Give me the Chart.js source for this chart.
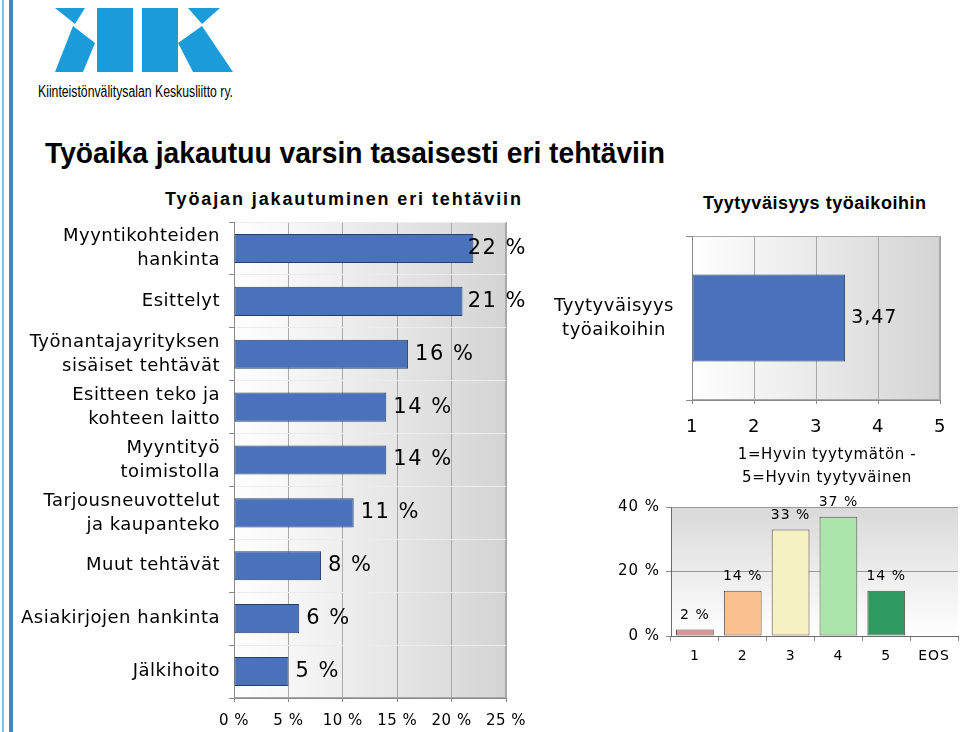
<!DOCTYPE html>
<html><head><meta charset="utf-8">
<script src="https://cdn.jsdelivr.net/npm/chart.js@4"></script>
<style>
html,body{margin:0;padding:0;background:#fff;}
body{width:960px;height:732px;overflow:hidden;position:relative;}
.abs{position:absolute;}
.txt{position:absolute;white-space:nowrap;line-height:1;color:#000;transform-origin:0 0;}
canvas{position:absolute;}
</style></head><body>

<div class="abs" style="left:2px;top:0;width:1.5px;height:732px;background:#8cbbe3;"></div>
<div class="abs" style="left:9px;top:0;width:4px;height:732px;background:#3f88c9;"></div>

<svg class="abs" style="left:0;top:0" width="240" height="80" viewBox="0 0 240 80">
  <g fill="#1b9bd7">
    <polygon points="55,8 85,8 75,24"/>
    <polygon points="73,26 95,43 83,72 55,72"/>
    <rect x="97" y="8" width="36" height="64"/>
    <rect x="142" y="8" width="36" height="64"/>
    <polygon points="188,8 220,8 202,24"/>
    <polygon points="202,26 178,43 193,72 233,72"/>
  </g>
</svg>
<div id="logoText" class="txt" data-fit="scale" data-w="195" style="left:38px;top:83px;font:16px 'Liberation Sans Narrow','Liberation Sans',sans-serif;">Kiinteistönvälitysalan Keskusliitto ry.</div>

<div id="mainTitle" class="txt" data-fit="scale" data-w="620" style="left:45px;top:137px;font:bold 29px 'Liberation Sans',Arial,sans-serif;">Työaika jakautuu varsin tasaisesti eri tehtäviin</div>
<div id="titleA" class="txt" data-fit="space" data-w="356" style="left:165px;top:189px;font:bold 18px 'Liberation Sans',Arial,sans-serif;">Työajan jakautuminen eri tehtäviin</div>
<div id="titleB" class="txt" data-fit="space" data-w="223" style="left:703px;top:193px;font:bold 18px 'Liberation Sans',Arial,sans-serif;">Tyytyväisyys työaikoihin</div>

<canvas id="cA" width="540" height="517" style="left:0;top:215px;width:540px;height:517px;"></canvas>
<canvas id="cB" width="420" height="260" style="left:540px;top:225px;width:420px;height:260px;"></canvas>
<canvas id="cC" width="360" height="184" style="left:600px;top:496px;width:360px;height:184px;"></canvas>

<script>
// ---- data ----
const taskLabels = [["Myyntikohteiden","hankinta"],"Esittelyt",["Työnantajayrityksen","sisäiset tehtävät"],["Esitteen teko ja","kohteen laitto"],["Myyntityö","toimistolla"],["Tarjousneuvottelut","ja kaupanteko"],"Muut tehtävät","Asiakirjojen hankinta","Jälkihoito"];
const taskShares = [22, 21, 16, 14, 14, 11, 8, 6, 5];
const shareTickStep = 5;
const shareMax = 25;

const satisfactionLabels = [["Tyytyväisyys","työaikoihin"]];
const satisfactionMean = [3.47];
const scaleMin = 1, scaleMax = 5;
const scaleTitle = ["1=Hyvin tyytymätön -","5=Hyvin tyytyväinen"];

const ratingLabels = ["1","2","3","4","5","EOS"];
const ratingShares = [2, 14, 33, 37, 14, 0];
const ratingColors = ["#d99694","#fac090","#f6f1c3","#abe5ab","#2f9a60","#cccccc"];

// ---- text fitting ----
document.querySelectorAll('[data-fit]').forEach(el=>{
  const target = +el.dataset.w;
  const w = el.getBoundingClientRect().width;
  if (el.dataset.fit === 'scale') {
    el.style.transform = 'scaleX(' + (target / w) + ')';
  } else {
    const n = el.textContent.length - 1;
    el.style.letterSpacing = ((target - w) / n) + 'px';
  }
});

// ---- plugins ----
const spacingPlugin = {
  id: 'spacing',
  beforeUpdate(chart, args, opts) { chart.ctx.letterSpacing = (opts.px || 0) + 'px'; },
  beforeDraw(chart, args, opts) { chart.ctx.letterSpacing = (opts.px || 0) + 'px'; }
};
const bgPlugin = {
  id: 'bg',
  beforeDraw(chart, args, opts) {
    if (!opts.colors) return;
    const {ctx, chartArea: a} = chart;
    const g = opts.vertical ? ctx.createLinearGradient(0, a.top, 0, a.bottom)
                            : ctx.createLinearGradient(a.left, 0, a.right, 0);
    g.addColorStop(0, opts.colors[0]);
    g.addColorStop(1, opts.colors[1]);
    ctx.save();
    ctx.fillStyle = g;
    ctx.fillRect(a.left, a.top, a.right - a.left, a.bottom - a.top);
    if (opts.border) {
      ctx.strokeStyle = opts.border; ctx.lineWidth = 1;
      ctx.strokeRect(a.left + 0.5, a.top + 0.5, a.right - a.left - 1, a.bottom - a.top - 1);
    }
    ctx.restore();
  }
};
const labelPlugin = {
  id: 'vlabels',
  afterDatasetsDraw(chart, args, opts) {
    if (!opts.format) return;
    const ctx = chart.ctx;
    const meta = chart.getDatasetMeta(0);
    const data = chart.data.datasets[0].data;
    ctx.save();
    ctx.font = opts.font;
    ctx.fillStyle = '#000';
    ctx.letterSpacing = (opts.spacing || 0) + 'px';
    ctx.textBaseline = 'middle';
    meta.data.forEach((el, i) => {
      const v = data[i];
      if (opts.skipZero && v === 0) return;
      const t = opts.format(v);
      if (opts.mode === 'right') {
        ctx.textAlign = 'left';
        const w = ctx.measureText(t).width;
        let x = el.x + opts.offset;
        if (opts.maxRight && x + w > opts.maxRight) x = opts.maxRight - w;
        ctx.fillText(t, x, el.y);
      } else {
        ctx.textAlign = 'center';
        ctx.fillText(t, el.x, el.y - opts.offset);
      }
    });
    ctx.restore();
  }
};
const axisTitlePlugin = {
  id: 'axTitle',
  afterDraw(chart, args, opts) {
    if (!opts.lines) return;
    const ctx = chart.ctx;
    ctx.save();
    ctx.font = opts.font; ctx.fillStyle = '#000';
    ctx.letterSpacing = (opts.spacing || 0) + 'px';
    ctx.textAlign = 'center'; ctx.textBaseline = 'middle';
    opts.lines.forEach((l, i) => ctx.fillText(l, opts.x, opts.y + i * opts.lh));
    ctx.restore();
  }
};
Chart.register(spacingPlugin, bgPlugin, labelPlugin, axisTitlePlugin);
Chart.defaults.color = '#000';
Chart.defaults.font.family = "'DejaVu Sans', Verdana, sans-serif";

const common = {
  responsive: false, animation: false, devicePixelRatio: 1,
  events: []
};
const fitX = h => s => { s.height = h; s.paddingLeft = 0; s.paddingRight = 0; };
const fitY = w => s => { s.width = w; s.paddingTop = 0; s.paddingBottom = 0; };

// ---- Chart A ----
new Chart(document.getElementById('cA'), {
  type: 'bar',
  data: { labels: taskLabels, datasets: [{
    data: taskShares, backgroundColor: '#4a72bb', borderColor: '#263f6b', borderWidth: 1,
    borderSkipped: false, categoryPercentage: 1, barPercentage: 0.55 }] },
  options: Object.assign({}, common, {
    indexAxis: 'y',
    layout: { padding: { top: 7, right: 34, left: 0, bottom: 0 } },
    plugins: {
      legend: { display: false }, tooltip: { enabled: false },
      spacing: { px: 0.5 },
      bg: { colors: ['#ffffff', '#d4d4d4'], border: '#a8a8a8' },
      vlabels: { format: v => v + ' %', font: "21px 'DejaVu Sans'", spacing: 1.5, mode: 'right', offset: 7, maxRight: 527 }
    },
    scales: {
      x: { min: 0, max: shareMax,
        ticks: { stepSize: shareTickStep, callback: v => v + ' %', font: { size: 15 }, padding: 10 },
        grid: { color: '#a9a9a9', tickLength: 4, tickColor: '#8a8a8a' },
        border: { color: '#8a8a8a' },
        afterFit: fitX(34) },
      y: { ticks: { font: { size: 18, lineHeight: 1.33 }, padding: 9 },
        grid: { color: '#ececec', tickLength: 5, tickColor: '#8a8a8a' },
        border: { color: '#8a8a8a' },
        afterFit: fitY(234) }
    }
  })
});

// ---- Chart B ----
new Chart(document.getElementById('cB'), {
  type: 'bar',
  data: { labels: satisfactionLabels, datasets: [{
    data: satisfactionMean, backgroundColor: '#4a72bb', borderColor: '#263f6b', borderWidth: 1,
    borderSkipped: false, categoryPercentage: 1, barPercentage: 0.53, base: scaleMin }] },
  options: Object.assign({}, common, {
    indexAxis: 'y',
    layout: { padding: { top: 11, right: 20, left: 0, bottom: 0 } },
    plugins: {
      legend: { display: false }, tooltip: { enabled: false },
      spacing: { px: 0.5 },
      bg: { colors: ['#ffffff', '#d4d4d4'], border: '#a8a8a8' },
      vlabels: { format: v => v.toFixed(2).replace('.', ','), font: "19px 'DejaVu Sans'", spacing: 1, mode: 'right', offset: 6 },
      axTitle: { lines: scaleTitle, font: "15px 'DejaVu Sans'", spacing: 0.6, x: 287, y: 230, lh: 23 }
    },
    scales: {
      x: { min: scaleMin, max: scaleMax,
        ticks: { stepSize: 1, font: { size: 18 }, padding: 13 },
        grid: { color: '#a9a9a9', tickLength: 4, tickColor: '#8a8a8a' },
        border: { color: '#8a8a8a' },
        afterFit: fitX(85) },
      y: { ticks: { font: { size: 18, lineHeight: 1.33 }, padding: 12, crossAlign: 'center' },
        grid: { color: '#a9a9a9', tickLength: 6, tickColor: '#8a8a8a' },
        border: { color: '#8a8a8a' },
        afterFit: fitY(152) }
    }
  })
});

// ---- Chart C ----
new Chart(document.getElementById('cC'), {
  type: 'bar',
  data: { labels: ratingLabels, datasets: [{
    data: ratingShares, backgroundColor: ratingColors, borderColor: '#5b4e4e', borderWidth: 1,
    borderSkipped: false, categoryPercentage: 1, barPercentage: 0.79 }] },
  options: Object.assign({}, common, {
    layout: { padding: { top: 11, right: 2, left: 0, bottom: 0 } },
    plugins: {
      legend: { display: false }, tooltip: { enabled: false },
      spacing: { px: 1 },
      bg: { colors: ['#d9d9d9', '#ffffff'], vertical: true },
      vlabels: { format: v => v + ' %', font: "14px 'DejaVu Sans'", spacing: 1, mode: 'top', offset: 14, skipZero: true }
    },
    scales: {
      x: { ticks: { font: { size: 14 }, padding: 7 },
        grid: { drawOnChartArea: false, offset: true, tickLength: 5, tickColor: '#8a8a8a' },
        border: { color: '#6a6a6a' },
        afterFit: fitX(44) },
      y: { min: 0, max: 40,
        ticks: { stepSize: 20, callback: v => v + ' %', font: { size: 15 }, padding: 6 },
        grid: { color: '#9a9a9a', tickLength: 5, tickColor: '#8a8a8a' },
        border: { color: '#6a6a6a' },
        afterFit: fitY(71) }
    }
  })
});
</script>
</body></html>
